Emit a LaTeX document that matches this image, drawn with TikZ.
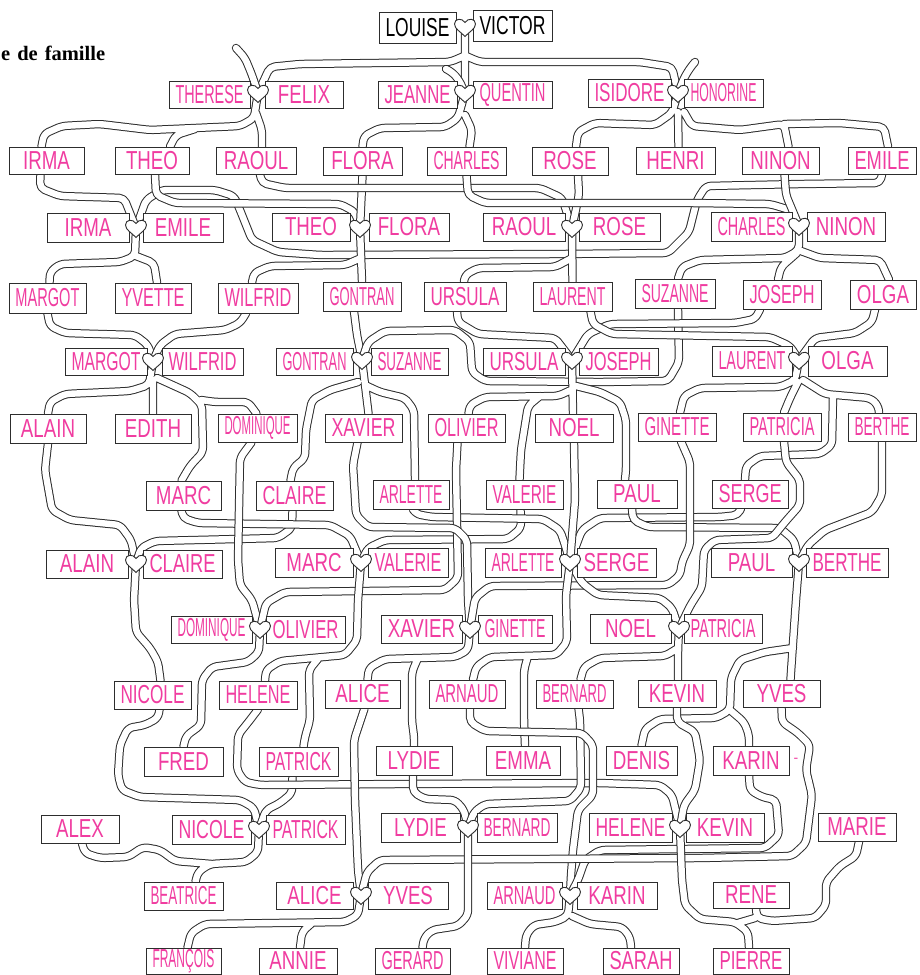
\documentclass[tikz,border=0pt]{standalone}
\usepackage{fontspec}
\usepackage{graphicx}
\newfontfamily\namefam{Liberation Sans}
\newfontfamily\titlefam{Liberation Serif}
\definecolor{pinkname}{RGB}{240,60,160}
\definecolor{ink}{RGB}{45,45,45}
\pgfdeclarelayer{back}
\pgfsetlayers{back,main}
\newsavebox\nbox
\newdimen\nboxw
\newcommand\namefont{\namefam\fontsize{26}{26}\selectfont}
\newcommand\fitname[2]{\pgfmathsetmacro\fw{#1}\sbox\nbox{\namefont #2}\nboxw=\wd\nbox\pgfmathsetmacro\sx{min(0.72,\fw/\nboxw)}\scalebox{\sx}[1]{\usebox\nbox}}
\tikzset{
  namebox/.style={draw=ink,line width=0.9pt,fill=white,inner sep=0pt,text=pinkname,anchor=center},
  heartpt/.style={inner sep=0pt,minimum size=0pt},
  pipeo/.style={draw=ink,line width=8.4pt,rounded corners=5pt,line cap=round,line join=round},
  pipei/.style={draw=white,line width=6.4pt,rounded corners=5pt,line cap=round,line join=round},
  heart/.pic={\filldraw[draw=ink,fill=white,line width=0.9pt] (0,9.5) .. controls (-4,5) and (-10.5,2) .. (-10.5,-3) .. controls (-10.5,-8.5) and (-3,-9.5) .. (0,-4.5) .. controls (3,-9.5) and (10.5,-8.5) .. (10.5,-3) .. controls (10.5,2) and (4,5) .. (0,9.5) -- cycle;}
}
\newcommand\nb[7][]{\node[namebox,minimum width={(#5)-(#3)},minimum height={(#6)-(#4)},#1] (#2) at ({((#3)+(#5))/2},{((#4)+(#6))/2}) {\fitname{(#5)-(#3)-13}{#7}};}
\newcommand\pipes[1]{\draw[pipeo] #1; \draw[pipei] #1;}
\begin{document}
\begin{tikzpicture}[x=1pt,y=-1pt]
\useasboundingbox (0,0) rectangle (919,975);
\node[anchor=base west,inner sep=0pt,font=\titlefam\bfseries\fontsize{20.5}{20.5}\selectfont] (title) at (1,60) {e\hspace{7pt}de\hspace{7pt}famille};
% hearts (positions)
\foreach \n/\x/\y in {hLV/465/27,hTF/258/93,hJQ/465/93,hIH/678/93,hIE/136/228,hTFl/360/228,hRR/572/228,hCN/799/226,hMW/153/361,hGS/362/360,hUJ/572/360,hLO/799/360,hAC/136/563,hMV/361/562,hAS/570/562,hPB/799/562,hDO/260/629,hXG/470/629,hNP/679/629,hNPa/259/829,hLB/468/828,hHK/680/828,hAY/361/895,hAK/570/895}
  {\node[heartpt] (\n) at (\x,\y) {};}
% row 0
\nb[text=black]{LOUISE}{379}{12}{456}{43}{LOUISE}
\nb[text=black]{VICTOR}{473}{10}{552}{41}{VICTOR}
% row 1
\nb{THERESEa}{169}{81}{250}{108}{THERESE}
\nb{FELIXa}{265}{81}{343}{108}{FELIX}
\nb{JEANNEa}{378}{81}{457}{108}{JEANNE}
\nb{QUENTINa}{473}{81}{552}{108}{QUENTIN}
\nb{ISIDOREa}{588}{79}{671}{107}{ISIDORE}
\nb{HONORINEa}{684}{79}{763}{107}{HONORINE}
% row 2
\nb{IRMAb}{9}{147}{84}{174}{IRMA}
\nb{THEOb}{115}{147}{189}{174}{THEO}
\nb{RAOULb}{216}{147}{296}{174}{RAOUL}
\nb{FLORAb}{323}{147}{402}{175}{FLORA}
\nb{CHARLESb}{427}{147}{506}{175}{CHARLES}
\nb{ROSEb}{532}{147}{608}{175}{ROSE}
\nb{HENRIb}{636}{147}{715}{174}{HENRI}
\nb{NINONb}{742}{147}{819}{174}{NINON}
\nb{EMILEb}{848}{147}{916}{174}{EMILE}
% row 3
\nb{IRMAc}{47}{213}{129}{242}{IRMA}
\nb{EMILEc}{143}{213}{223}{242}{EMILE}
\nb{THEOc}{272}{213}{350}{241}{THEO}
\nb{FLORAc}{369}{213}{449}{241}{FLORA}
\nb{RAOULc}{483}{213}{565}{241}{RAOUL}
\nb{ROSEc}{579}{213}{660}{241}{ROSE}
\nb{CHARLESc}{711}{212}{792}{241}{CHARLES}
\nb{NINONc}{807}{212}{885}{241}{NINON}
% row 4
\nb{MARGOTd}{9}{283}{86}{313}{MARGOT}
\nb{YVETTEd}{115}{283}{191}{313}{YVETTE}
\nb{WILFRIDd}{218}{283}{298}{313}{WILFRID}
\nb{GONTRANd}{323}{282}{401}{311}{GONTRAN}
\nb{URSULAd}{424}{282}{506}{311}{URSULA}
\nb{LAURENTd}{533}{282}{612}{311}{LAURENT}
\nb{SUZANNEd}{635}{279}{715}{308}{SUZANNE}
\nb{JOSEPHd}{743}{280}{821}{309}{JOSEPH}
\nb{OLGAd}{850}{280}{916}{309}{OLGA}
% row 5
\nb{MARGOTe}{65}{348}{147}{375}{MARGOT}
\nb{WILFRIDe}{162}{348}{243}{375}{WILFRID}
\nb{GONTRANe}{276}{348}{353}{375}{GONTRAN}
\nb{SUZANNEe}{371}{348}{448}{375}{SUZANNE}
\nb{URSULAe}{483}{348}{565}{375}{URSULA}
\nb{JOSEPHe}{579}{348}{658}{375}{JOSEPH}
\nb{LAURENTe}{712}{346}{792}{376}{LAURENT}
\nb{OLGAe}{808}{346}{887}{376}{OLGA}
% row 6
\nb{ALAINf}{10}{414}{86}{443}{ALAIN}
\nb{EDITHf}{115}{414}{191}{443}{EDITH}
\nb{DOMINIQUEf}{218}{414}{297}{442}{DOMINIQUE}
\nb{XAVIERf}{325}{414}{402}{442}{XAVIER}
\nb{OLIVIERf}{428}{414}{505}{442}{OLIVIER}
\nb{NOELf}{535}{414}{613}{442}{NOEL}
\nb{GINETTEf}{638}{413}{716}{441}{GINETTE}
\nb{PATRICIAf}{743}{413}{821}{441}{PATRICIA}
\nb{BERTHEf}{848}{413}{916}{441}{BERTHE}
% row 7
\nb{MARCg}{146}{481}{221}{510}{MARC}
\nb{CLAIREg}{256}{481}{333}{510}{CLAIRE}
\nb{ARLETTEg}{373}{480}{449}{509}{ARLETTE}
\nb{VALERIEg}{486}{480}{563}{509}{VALERIE}
\nb{PAULg}{597}{480}{677}{508}{PAUL}
\nb{SERGEg}{712}{480}{788}{508}{SERGE}
% row 8
\nb{ALAINh}{46}{550}{128}{578}{ALAIN}
\nb{CLAIREh}{143}{550}{222}{578}{CLAIRE}
\nb{MARCh}{275}{548}{353}{577}{MARC}
\nb{VALERIEh}{368}{548}{448}{577}{VALERIE}
\nb{ARLETTEh}{485}{548}{561}{577}{ARLETTE}
\nb{SERGEh}{577}{548}{656}{577}{SERGE}
\nb{PAULh}{711}{548}{792}{577}{PAUL}
\nb{BERTHEh}{806}{548}{888}{577}{BERTHE}
% row 9
\nb{DOMINIQUEi}{171}{616}{252}{643}{DOMINIQUE}
\nb{OLIVIERi}{266}{616}{345}{643}{OLIVIER}
\nb{XAVIERi}{381}{615}{462}{643}{XAVIER}
\nb{GINETTEi}{478}{615}{552}{643}{GINETTE}
\nb{NOELi}{590}{614}{671}{643}{NOEL}
\nb{PATRICIAi}{684}{614}{762}{643}{PATRICIA}
% row 10
\nb{NICOLEj}{114}{681}{191}{709}{NICOLE}
\nb{HELENEj}{219}{681}{297}{709}{HELENE}
\nb{ALICEj}{325}{680}{400}{708}{ALICE}
\nb{ARNAUDj}{429}{680}{505}{708}{ARNAUD}
\nb{BERNARDj}{536}{680}{613}{708}{BERNARD}
\nb{KEVINj}{638}{680}{716}{707}{KEVIN}
\nb{YVESj}{743}{680}{820}{707}{YVES}
% row 11
\nb{FREDk}{144}{747}{223}{776}{FRED}
\nb{PATRICKk}{259}{747}{338}{776}{PATRICK}
\nb{LYDIEk}{376}{746}{452}{775}{LYDIE}
\nb{EMMAk}{486}{746}{560}{775}{EMMA}
\nb{DENISk}{606}{746}{677}{775}{DENIS}
\nb{KARINk}{713}{746}{789}{775}{KARIN}
% row 12
\nb{ALEXl}{41}{815}{119}{843}{ALEX}
\nb{NICOLEl}{172}{815}{251}{844}{NICOLE}
\nb{PATRICKl}{266}{815}{345}{844}{PATRICK}
\nb{LYDIEl}{381}{813}{460}{842}{LYDIE}
\nb{BERNARDl}{477}{813}{557}{842}{BERNARD}
\nb{HELENEl}{589}{813}{672}{842}{HELENE}
\nb{KEVINl}{686}{813}{764}{842}{KEVIN}
\nb{MARIEl}{818}{813}{896}{841}{MARIE}
% row 13
\nb{BEATRICEm}{144}{882}{223}{910}{BEATRICE}
\nb{ALICEm}{276}{882}{353}{909}{ALICE}
\nb{YVESm}{368}{882}{448}{909}{YVES}
\nb{ARNAUDm}{487}{882}{562}{909}{ARNAUD}
\nb{KARINm}{577}{882}{657}{909}{KARIN}
\nb{RENEm}{713}{882}{789}{908}{RENE}
% row 14
\nb{FRANCOISn}{146}{948}{221}{974}{FRANÇOIS}
\nb{ANNIEn}{259}{948}{337}{974}{ANNIE}
\nb{GERARDn}{375}{948}{450}{974}{GERARD}
\nb{VIVIANEn}{487}{948}{563}{974}{VIVIANE}
\nb{SARAHn}{603}{948}{679}{974}{SARAH}
\nb{PIERREn}{713}{948}{789}{974}{PIERRE}
\node[text=pinkname,inner sep=0pt,font=\namefam\fontsize{14}{14}\selectfont] (kdash) at (796,760) {-};
% hearts drawn over boxes
\foreach \n in {hLV,hTF,hJQ,hIH,hIE,hTFl,hRR,hCN,hMW,hGS,hUJ,hLO,hAC,hMV,hAS,hPB,hDO,hXG,hNP,hNPa,hLB,hHK,hAY,hAK}
  {\pic at (\n) {heart};}
\begin{pgfonlayer}{back}
% generation 0 -> 1
\pipes{(hLV.center) -- (hJQ.center) (464,56) -- (450,62) -- (300,64) -- (270,67) -- (hTF.center) (466,56) -- (480,62) -- (640,62) -- (672,67) -- (hIH.center)}
\pipes{(hTF.center) -- (252,75) -- (245,58) -- (236,48)}
\pipes{(hJQ.center) -- (459,80) -- (452,72) -- (446,69)}
\pipes{(hIH.center) -- (684,78) -- (690,68) -- (695,62)}
% generation 1 -> 2
\pipes{(hTF.center) -- (254,118) -- (240,126) -- (150,130) -- (100,124) -- (62,126) -- (44,134) -- ([xshift=-5]IRMAb.north) (195,129) -- (176,135) -- ([xshift=18]THEOb.north) (256,113) -- (262,130) -- ([xshift=6]RAOULb.north)}
\pipes{(hJQ.center) -- (458,118) -- (445,127) -- (380,128) -- (364,136) -- (FLORAb.north) (465,115) -- (472,130) -- ([xshift=3]CHARLESb.north)}
\pipes{(hIH.center) -- (672,113) -- (655,125) -- (595,123) -- (578,132) -- ([xshift=6]ROSEb.north) (678,112) -- ([xshift=3]HENRIb.north) (684,112) -- (692,126) -- (740,130) -- (784,124) -- ([xshift=8]NINONb.north) (784,124) -- (840,123) -- (884,127) -- ([xshift=6]EMILEb.north)}
% spouses 2 -> 3
\pipes{(EMILEb.south) -- (880,183) -- (800,184) -- (706,186) -- (697,200) -- (689,232) -- (668,253) -- (560,254) -- (320,255) -- (278,252) -- (252,240) -- (240,210) -- (234,196) -- (215,190) -- (162,190) -- (146,200) -- (hIE.center)}
\pipes{([xshift=-6]IRMAb.south) -- (40,188) -- (60,196) -- (124,198) -- (hIE.center)}
\pipes{([xshift=3]THEOb.south) -- (156,195) -- (175,203) -- (340,204) -- (355,212) -- (hTFl.center)}
\pipes{(FLORAb.south) -- (hTFl.center)}
\pipes{([xshift=4]RAOULb.south) -- (262,183) -- (285,188) -- (540,188) -- (562,198) -- (hRR.center)}
\pipes{([xshift=8]ROSEb.south) -- (579,195) -- (hRR.center)}
\pipes{(CHARLESb.south) -- (468,195) -- (485,203) -- (690,203) -- (770,204) -- (790,210) -- (hCN.center)}
\pipes{([xshift=4]NINONb.south) -- (786,195) -- (hCN.center)}
% generation 3 -> 4
\pipes{(hIE.center) -- (135,256) -- (120,262) -- (60,264) -- (50,272) -- ([xshift=2]MARGOTd.north) (136,256) -- (154,263) -- ([xshift=4]YVETTEd.north)}
\pipes{(hTFl.center) -- (GONTRANd.north) (361,258) -- (345,265) -- (270,266) -- (254,273) -- ([xshift=-6]WILFRIDd.north)}
\pipes{(hRR.center) -- (LAURENTd.north) (572,258) -- (555,267) -- (478,268) -- (465,275) -- ([xshift=-1]URSULAd.north)}
\pipes{(hCN.center) -- (799,250) -- (785,258) -- (700,260) -- (682,267) -- ([xshift=3]SUZANNEd.north) (797,253) -- (781,267) -- ([xshift=-4]JOSEPHd.north) (801,251) -- (820,258) -- (880,260) -- ([xshift=6]OLGAd.north)}
% spouses 4 -> 5
\pipes{(MARGOTd.south) -- (50,326) -- (65,333) -- (135,335) -- (148,345) -- (hMW.center)}
\pipes{([xshift=-12]WILFRIDd.south) -- (240,323) -- (225,330) -- (175,334) -- (160,345) -- (hMW.center)}
\pipes{([xshift=-8]GONTRANd.south) -- (357,335) -- (hGS.center)}
\pipes{([xshift=3]SUZANNEd.south) -- (679,362) -- (668,381) -- (600,382) -- (485,381) -- (472,372) -- (470,342) -- (455,330) -- (385,331) -- (368,342) -- (hGS.center)}
\pipes{([xshift=-8]URSULAd.south) -- (458,322) -- (478,334) -- (555,338) -- (hUJ.center)}
\pipes{([xshift=-22]JOSEPHd.south) -- (755,319) -- (735,323) -- (610,324) -- (588,334) -- (hUJ.center)}
\pipes{([xshift=18]LAURENTd.south) -- (593,324) -- (612,334) -- (770,337) -- (790,346) -- (hLO.center)}
\pipes{([xshift=-8]OLGAd.south) -- (872,322) -- (855,333) -- (815,338) -- (hLO.center)}
% generation 5 -> 6/7
\pipes{(hMW.center) -- (149,385) -- (130,391) -- (65,394) -- (50,402) -- (ALAINf.north) (153,380) -- (EDITHf.north) (157,378) -- (190,393) -- (202,405) -- (203,452) -- (190,466) -- ([xshift=-2]MARCg.north) (201,400) -- (215,402) -- (248,402) -- ([xshift=-1]DOMINIQUEf.north)}
\pipes{(hGS.center) -- ([xshift=5]XAVIERf.north) (365,385) -- (380,392) -- (405,398) -- (414,410) -- ([xshift=4]ARLETTEg.north) (358,382) -- (330,390) -- (312,400) -- (306,430) -- (305,458) -- (293,468) -- ([xshift=-4]CLAIREg.north)}
\pipes{(hUJ.center) -- ([xshift=-1]NOELf.north) (571,390) -- (558,396) -- (485,397) -- (470,405) -- ([xshift=2]OLIVIERf.north) (540,396) -- (528,406) -- (521,450) -- ([xshift=-5]VALERIEg.north) (576,386) -- (600,392) -- (620,402) -- (626,420) -- (626,470) -- ([xshift=-12]PAULg.north)}
\pipes{(hLO.center) -- (795,380) -- (780,387) -- (700,388) -- (684,396) -- ([xshift=3]GINETTEf.north) (798,382) -- (790,398) -- ([xshift=2]PATRICIAf.north) (803,380) -- (825,394) -- (870,398) -- (878,405) -- ([xshift=-3]BERTHEf.north) (833,396) -- (832,445) -- (820,454) -- (760,456) -- (746,466) -- ([xshift=-5]SERGEg.north)}
% spouses 6/7 -> 8/9
\pipes{(ALAINf.south) -- (45,470) -- (52,510) -- (70,520) -- (120,525) -- (131,540) -- (hAC.center)}
\pipes{([xshift=-2]CLAIREg.south) -- (292,528) -- (278,538) -- (155,541) -- (141,548) -- (hAC.center)}
\pipes{([xshift=-2]MARCg.south) -- (183,518) -- (198,523) -- (330,525) -- (350,536) -- (hMV.center)}
\pipes{([xshift=-4]VALERIEg.south) -- (521,528) -- (508,539) -- (385,540) -- (368,548) -- (hMV.center)}
\pipes{([xshift=2]ARLETTEg.south) -- (416,514) -- (432,517) -- (543,519) -- (560,530) -- (565,545) -- (hAS.center)}
\pipes{([xshift=-9]SERGEg.south) -- (738,515) -- (720,517) -- (600,518) -- (582,530) -- (hAS.center)}
\pipes{([xshift=-5]PAULg.south) -- (633,520) -- (648,527) -- (780,528) -- (794,540) -- (hPB.center)}
\pipes{(BERTHEf.south) -- (882,495) -- (872,512) -- (825,530) -- (808,545) -- (hPB.center)}
\pipes{([xshift=-6]DOMINIQUEf.south) -- (240,458) -- (238,560) -- (240,585) -- (252,600) -- (hDO.center)}
\pipes{([xshift=-9]OLIVIERf.south) -- (456,470) -- (458,578) -- (445,590) -- (285,592) -- (266,603) -- (hDO.center)}
\pipes{([xshift=-6]XAVIERf.south) -- (353,465) -- (356,515) -- (368,527) -- (455,528) -- (467,540) -- (468,600) -- (hXG.center)}
\pipes{([xshift=4]GINETTEf.south) -- (690,462) -- (690,545) -- (682,562) -- (680,575) -- (668,585) -- (490,586) -- (475,598) -- (hXG.center)}
\pipes{(NOELf.south) -- (575,500) -- (hAS.center) -- (582,583) -- (598,595) -- (660,598) -- (672,608) -- (hNP.center)}
\pipes{([xshift=2]PATRICIAf.south) -- (786,462) -- (800,480) -- (800,505) -- (785,522) -- (772,538) -- (715,540) -- (704,550) -- (702,587) -- (690,606) -- (hNP.center)}
% generation 8/9 -> 10/11
\pipes{(hAC.center) -- (134,600) -- (136,632) -- (150,648) -- (158,662) -- ([xshift=8]NICOLEj.north)}
\pipes{(hDO.center) -- (259,652) -- (248,662) -- (212,667) -- (202,680) -- (201,725) -- (186,736) -- (FREDk.north)}
\pipes{(hMV.center) -- (358,600) -- (357,640) -- (345,655) -- (280,661) -- (266,670) -- ([xshift=7]HELENEj.north) (318,659) -- (309,670) -- (310,720) -- (305,737) -- ([xshift=5]PATRICKk.north)}
\pipes{(hXG.center) -- (468,650) -- (455,657) -- (385,659) -- (369,668) -- ([xshift=5]ALICEj.north) (418,658) -- (412,672) -- (412,722) -- (414,736) -- (LYDIEk.north)}
\pipes{(hAS.center) -- (566,595) -- (567,642) -- (556,655) -- (490,657) -- (476,667) -- ([xshift=6]ARNAUDj.north) (528,656) -- (524,670) -- (524,720) -- ([xshift=2]EMMAk.north)}
\pipes{(hNP.center) -- (678,650) -- ([xshift=1]KEVINj.north) (678,648) -- (665,656) -- (600,658) -- (584,667) -- ([xshift=6]BERNARDj.north)}
\pipes{(hPB.center) -- (796,600) -- (793,643) -- ([xshift=9]YVESj.north) (793,648) -- (765,652) -- (740,660) -- (731,678) -- (730,710) -- (716,718) -- (660,719) -- (645,729) -- (DENISk.north) (730,710) -- (744,722) -- (749,735) -- ([xshift=-2]KARINk.north)}
% spouses 10/11 -> 12/13
\pipes{([xshift=7]NICOLEj.south) -- (158,718) -- (145,725) -- (128,728) -- (120,745) -- (118,775) -- (122,790) -- (140,797) -- (240,800) -- (254,808) -- (hNPa.center)}
\pipes{([xshift=-6]PATRICKk.south) -- (292,793) -- (280,803) -- (266,810) -- (hNPa.center)}
\pipes{(HELENEj.south) -- (250,720) -- (238,735) -- (237,770) -- (245,782) -- (260,785) -- (400,784) -- (600,783) -- (660,785) -- (672,795) -- (hHK.center)}
\pipes{(KEVINj.south) -- (677,722) -- (695,732) -- (700,760) -- (695,790) -- (684,805) -- (hHK.center)}
\pipes{([xshift=-1]LYDIEk.south) -- (413,792) -- (425,799) -- (455,800) -- (464,810) -- (hLB.center)}
\pipes{([xshift=4]BERNARDj.south) -- (580,720) -- (581,788) -- (570,801) -- (485,804) -- (474,812) -- (hLB.center)}
\pipes{([xshift=2]ALICEj.south) -- (360,722) -- (354,740) -- (355,800) -- (358,870) -- (hAY.center)}
\pipes{([xshift=3]ARNAUDj.south) -- (470,722) -- (485,731) -- (582,733) -- (593,745) -- (593,795) -- (578,810) -- (573,850) -- (571,875) -- (hAK.center)}
\pipes{([xshift=-2]KARINk.south) -- (750,790) -- (762,797) -- (776,800) -- (779,835) -- (765,848) -- (600,850) -- (585,860) -- (578,880) -- (hAK.center)}
\pipes{(YVESj.south) -- (782,722) -- (798,733) -- (810,745) -- (806,770) -- (812,795) -- (806,843) -- (792,856) -- (700,858) -- (380,860) -- (367,872) -- (hAY.center)}
% generation 12/13 -> 13/14
\pipes{(hNPa.center) -- (258,852) -- (246,862) -- (210,864) -- (198,872) -- ([xshift=12]BEATRICEm.north) ([xshift=2]ALEXl.south) -- (85,853) -- (100,858) -- (128,857) -- (143,847) -- (160,850) -- (175,861) -- (212,864)}
\pipes{(hAY.center) -- (358,915) -- (345,922) -- (205,924) -- (191,933) -- ([xshift=4]FRANCOISn.north) (312,923) -- (302,932) -- ([xshift=2]ANNIEn.north)}
\pipes{(hLB.center) -- (468,915) -- (458,926) -- (432,930) -- (424,938) -- ([xshift=10]GERARDn.north)}
\pipes{(hAK.center) -- (568,916) -- (555,922) -- (534,925) -- (526,935) -- (VIVIANEn.north) (572,916) -- (590,924) -- (622,927) -- (630,937) -- ([xshift=-10]SARAHn.north)}
\pipes{(hHK.center) -- (682,880) -- (685,905) -- (700,919) -- (735,922) -- (748,932) -- ([xshift=-2]PIERREn.north) (738,923) -- (755,918) ([xshift=5]RENEm.south) -- (757,918) -- (772,921) -- (815,918) -- (826,905) -- (826,882) -- (840,866) -- (856,856) -- ([xshift=2]MARIEl.south)}
\end{pgfonlayer}
\end{tikzpicture}
\end{document}
